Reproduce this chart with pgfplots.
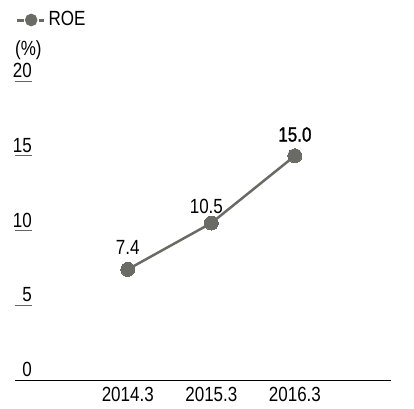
\documentclass[border=0pt]{standalone}
\usepackage{fontspec}
\setmainfont{Liberation Sans}[FakeStretch=0.83]
\newfontfamily\semib{Liberation Sans}[FakeStretch=0.83, FakeBold=1.2]
\usepackage{pgfplots}
\pgfplotsset{compat=1.18}
\usepackage{pgfplotstable}
\definecolor{roe}{RGB}{107,107,102}
\definecolor{tickc}{RGB}{100,100,100}

\pgfplotstableread{
x y dx dy b
0 7.4 0 15 0
1 10.5 -5 9 0
2 15.0 0 14 1
}\roedata

\begin{document}
\fontsize{20.5}{24}\selectfont
\begin{tikzpicture}
\begin{axis}[
    name=ax,
    scale only axis,
    width=376pt, height=299pt,
    xmin=-1.35, xmax=3.15,
    ymin=0, ymax=20,
    axis x line*=bottom, axis y line*=left,
    x axis line style={black, line width=1pt, -},
    y axis line style={draw=none},
    xtick={0,1,2},
    xticklabels={2014.3,2015.3,2016.3},
    xtick style={draw=none},
    ytick={0,5,10,15,20},
    ytick style={draw=tickc, line width=1pt},
    xtick pos=bottom, ytick pos=left,
    tick align=inside,
    major tick length=17pt,
    yticklabel style={anchor=south east, inner sep=0pt, xshift=17pt, yshift=3pt},
    tick label style={font=\fontsize{20.5}{24}\selectfont},
    /pgf/number format/assume math mode=true,
    clip=false,
    legend entries={ROE},
    legend cell align=left,
    legend style={draw=none, fill=none, at={(0,1)}, anchor=west, yshift=61pt,
        inner sep=0pt, font=\fontsize{20.5}{24}\selectfont},
    legend image code/.code={
        \path[draw=none, fill=none] (0pt,-5pt) rectangle (30pt,5pt);
        \draw[roe, line width=3pt] (0pt,0pt) -- (7pt,0pt);
        \draw[roe, line width=3pt] (22pt,0pt) -- (27pt,0pt);
        \fill[roe] (14.5pt,0pt) circle (5pt);
    },
]
\addplot[roe, line width=2.5pt, mark=*, mark size=7pt,
    mark options={fill=roe, draw=roe, line width=0pt},
    visualization depends on={\thisrow{dx} \as \dx},
    visualization depends on={\thisrow{dy} \as \dy},
    visualization depends on={\thisrow{b} \as \bld},
    point meta=y,
    nodes near coords={\ifdim\bld pt>0.5pt\semib\fi\pgfmathprintnumber[fixed,fixed zerofill,precision=1]{\pgfplotspointmeta}},
    every node near coord/.append style={black, anchor=south, inner sep=0pt,
        xshift=\dx pt, yshift=\dy pt, font=\fontsize{20.5}{24}\selectfont},
] table[x=x, y=y] {\roedata};
\end{axis}
\node[anchor=base west, inner sep=0pt] at ([yshift=26pt]ax.north west) {(\%)};
\pgfresetboundingbox
\path[use as bounding box] ([shift={(-15pt,-28pt)}]ax.south west) rectangle ++(414pt,408pt);
\end{tikzpicture}
\end{document}
